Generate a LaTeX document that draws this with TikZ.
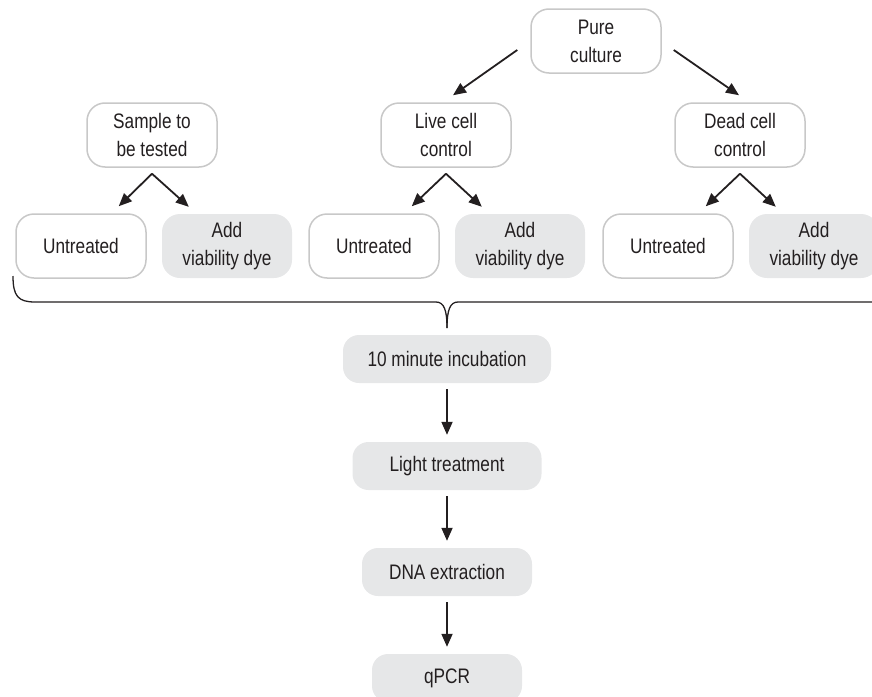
\documentclass[tikz,border=0pt]{standalone}
\usepackage{fontspec}
\setmainfont{Liberation Sans}[FakeStretch=0.82]
\usepackage{xcolor}
\usepackage{tikz}
\usetikzlibrary{arrows.meta}
\definecolor{boxgray}{RGB}{200,200,200}
\definecolor{fillgray}{RGB}{230,231,232}
\definecolor{inkdark}{RGB}{35,31,32}
\tikzset{
  outbox/.style={draw=boxgray, line width=1.5pt, rounded corners=18pt, fill=white,
    minimum width=130pt, minimum height=64pt, inner sep=0pt, align=center, text=inkdark},
  dyebox/.style={fill=fillgray, rounded corners=18pt,
    minimum width=130pt, minimum height=64pt, inner sep=0pt, align=center, text=inkdark},
  stepbox/.style={fill=fillgray, rounded corners=16pt, minimum height=48pt,
    inner sep=0pt, text=inkdark},
  arr/.style={-{Triangle[length=13pt,width=11pt]}, line width=1.8pt, draw=inkdark}
}

\begin{document}
\begin{tikzpicture}[x=1pt, y=-1pt, font=\fontsize{21pt}{28pt}\selectfont]
  \useasboundingbox (0,0) rectangle (872,696);
  % cultures
  \node[outbox] (pure) at (596,41) {Pure\\culture};
  \node[outbox] (sample) at (152,135) {Sample to\\be tested};
  \node[outbox] (live) at (446,135) {Live cell\\control};
  \node[outbox] (dead) at (740,135) {Dead cell\\control};
  \draw[arr] ([shift={(-13pt,-9pt)}]pure.west) -- ([shift={(7pt,7pt)}]live.north);
  \draw[arr] ([shift={(12pt,-9pt)}]pure.east) -- ([shift={(-1pt,7pt)}]dead.north);
  % untreated / dye pairs
  \foreach \src/\cx/\n in {sample/81/1, live/374/2, dead/668/3} {
    \node[outbox] (untr\n) at (\cx,246) {Untreated};
    \node[dyebox] (dye\n) at (\cx+146,246) {Add\\viability dye};
    \draw[arr] ([yshift=-6pt]\src.south) -- ([shift={(-28pt,7pt)}]untr\n.north east);
    \draw[arr] ([yshift=-6pt]\src.south) -- ([shift={(27pt,7pt)}]dye\n.north west);
  }
  % brace
  \coordinate (tip) at (447,328);
  \draw[line width=1.3pt, inkdark] (13,276) .. controls (13,296) and (18,302) .. (35,302)
    -- (436,302) .. controls (444,302) and (447,310) .. (tip);
  \draw[line width=1.3pt, inkdark] (tip) .. controls (447,310) and (450,302) .. (458,302)
    -- (880,302);
  % protocol
  \node[stepbox, minimum width=208pt] (incub) at (447,359) {10 minute incubation};
  \node[stepbox, minimum width=189pt] (light) at (447,466) {Light treatment};
  \node[stepbox, minimum width=170pt] (dna) at (447,572) {DNA extraction};
  \node[stepbox, minimum width=150pt] (qpcr) at (447,678) {qPCR};
  \draw[arr] ([yshift=-6pt]incub.south) -- ([yshift=7pt]light.north);
  \draw[arr] ([yshift=-6pt]light.south) -- ([yshift=7pt]dna.north);
  \draw[arr] ([yshift=-6pt]dna.south) -- ([yshift=7pt]qpcr.north);
\end{tikzpicture}
\end{document}
